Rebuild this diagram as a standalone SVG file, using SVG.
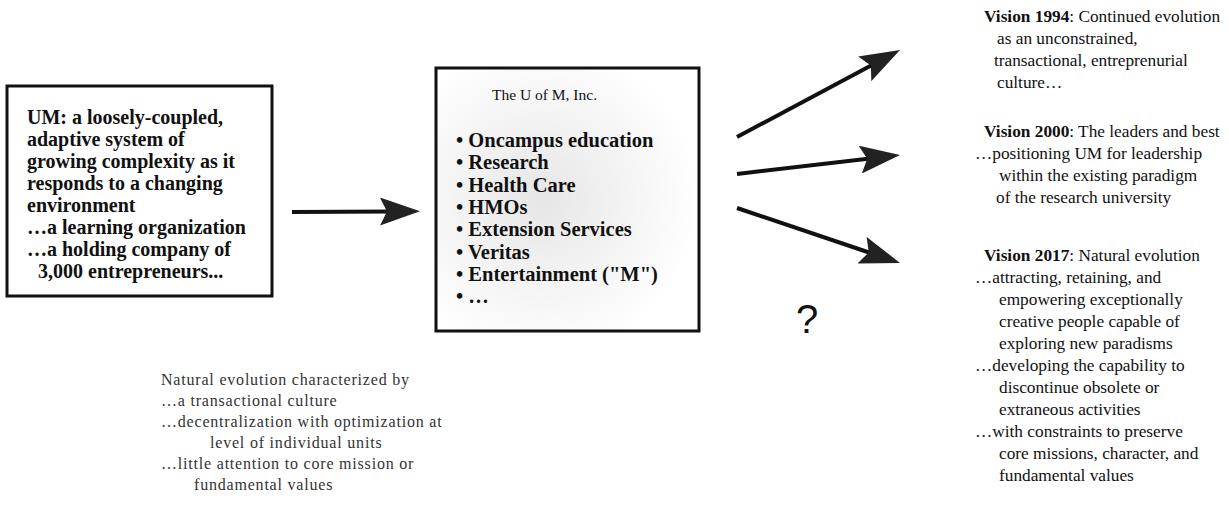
<svg xmlns="http://www.w3.org/2000/svg" width="1229" height="507" viewBox="0 0 1229 507">
<style>
  .box { fill: #ffffff; stroke: #111111; stroke-width: 3; }
  .bold { font-family: "Liberation Serif", serif; font-weight: bold; fill: #111111; }
  .lt { font-size: 20px; }
  .mid { font-size: 20.5px; }
  .ttl { font-family: "Liberation Serif", serif; font-size: 15.5px; fill: #111111; }
  .rt { font-family: "Liberation Serif", serif; font-size: 17.3px; fill: #111111; }
  .rt .b { font-weight: bold; }
  .bl { font-family: "Liberation Serif", serif; font-size: 16px; fill: #333333; letter-spacing: 0.8px; }
  .q { font-family: "Liberation Sans", sans-serif; font-size: 40px; fill: #111111; }
  .conn { stroke: #111111; stroke-width: 4; fill: none; marker-end: url(#ah); }
</style>
<defs>
  <marker id="ah" viewBox="0 0 40 28" refX="12" refY="14" markerWidth="40" markerHeight="28" markerUnits="userSpaceOnUse" orient="auto">
    <path d="M0,0 L40,14 L0,28 L7,14 Z" fill="#222222"/>
  </marker>
  <radialGradient id="stip" cx="0.4" cy="0.5" r="0.6">
    <stop offset="0" stop-color="#e6e6e6"/>
    <stop offset="1" stop-color="#ffffff"/>
  </radialGradient>
</defs>
<rect width="1229" height="507" fill="#ffffff"/>

<g id="um-box">
  <rect class="box" x="7" y="86" width="265" height="210"/>
  <text class="bold lt">
    <tspan x="27" y="124">UM:  a loosely-coupled,</tspan>
    <tspan x="27" y="146">adaptive system of</tspan>
    <tspan x="27" y="168">growing complexity as it</tspan>
    <tspan x="27" y="190">responds to a changing</tspan>
    <tspan x="27" y="212">environment</tspan>
    <tspan x="27" y="234">…a learning organization</tspan>
    <tspan x="27" y="256">…a holding company of</tspan>
    <tspan x="38" y="278">3,000 entrepreneurs...</tspan>
  </text>
</g>

<g id="uofm-box">
  <rect class="box" x="436" y="68" width="263" height="263" style="fill:url(#stip)"/>
  <text class="ttl" x="492" y="100">The U of M, Inc.</text>
  <text class="bold mid">
    <tspan x="456" y="147">• Oncampus education</tspan>
    <tspan x="456" y="169">• Research</tspan>
    <tspan x="456" y="192">• Health Care</tspan>
    <tspan x="456" y="214">• HMOs</tspan>
    <tspan x="456" y="236">• Extension Services</tspan>
    <tspan x="456" y="259">• Veritas</tspan>
    <tspan x="456" y="281">• Entertainment ("M")</tspan>
    <tspan x="456" y="303">• …</tspan>
  </text>
</g>

<g id="natural-evolution">
  <text class="bl">
    <tspan x="161" y="385">Natural evolution characterized by</tspan>
    <tspan x="161" y="406">…a transactional culture</tspan>
    <tspan x="161" y="427">…decentralization with optimization at</tspan>
    <tspan x="210" y="448">level of individual units</tspan>
    <tspan x="161" y="469">…little attention to core mission or</tspan>
    <tspan x="194" y="490">fundamental values</tspan>
  </text>
</g>

<g id="question">
  <text class="q" x="807" y="333" text-anchor="middle">?</text>
</g>

<g id="vision-1994">
  <text class="rt">
    <tspan x="984" y="22"><tspan class="b">Vision 1994</tspan>:  Continued evolution</tspan>
    <tspan x="997" y="44">as an unconstrained,</tspan>
    <tspan x="994" y="66">transactional, entreprenurial</tspan>
    <tspan x="997" y="88">culture…</tspan>
  </text>
</g>

<g id="vision-2000">
  <text class="rt">
    <tspan x="984" y="137"><tspan class="b">Vision 2000</tspan>: The leaders and best</tspan>
    <tspan x="975" y="159">…positioning UM for leadership</tspan>
    <tspan x="999" y="181">within the existing paradigm</tspan>
    <tspan x="996" y="203">of the research university</tspan>
  </text>
</g>

<g id="vision-2017">
  <text class="rt">
    <tspan x="984" y="261"><tspan class="b">Vision 2017</tspan>:  Natural evolution</tspan>
    <tspan x="975" y="283">…attracting, retaining, and</tspan>
    <tspan x="999" y="305">empowering exceptionally</tspan>
    <tspan x="999" y="327">creative people capable of</tspan>
    <tspan x="999" y="349">exploring new paradisms</tspan>
    <tspan x="975" y="371">…developing the capability to</tspan>
    <tspan x="999" y="393">discontinue obsolete or</tspan>
    <tspan x="999" y="415">extraneous activities</tspan>
    <tspan x="975" y="437">…with constraints to preserve</tspan>
    <tspan x="999" y="459">core missions, character, and</tspan>
    <tspan x="999" y="481">fundamental values</tspan>
  </text>
</g>

<g id="connectors">
  <line class="conn" x1="292" y1="212" x2="392" y2="211.5"/>
  <line class="conn" x1="737" y1="137" x2="875.3" y2="63.2"/>
  <line class="conn" x1="737" y1="174" x2="872.2" y2="158.2"/>
  <line class="conn" x1="737" y1="208" x2="873.5" y2="254"/>
</g>
</svg>
